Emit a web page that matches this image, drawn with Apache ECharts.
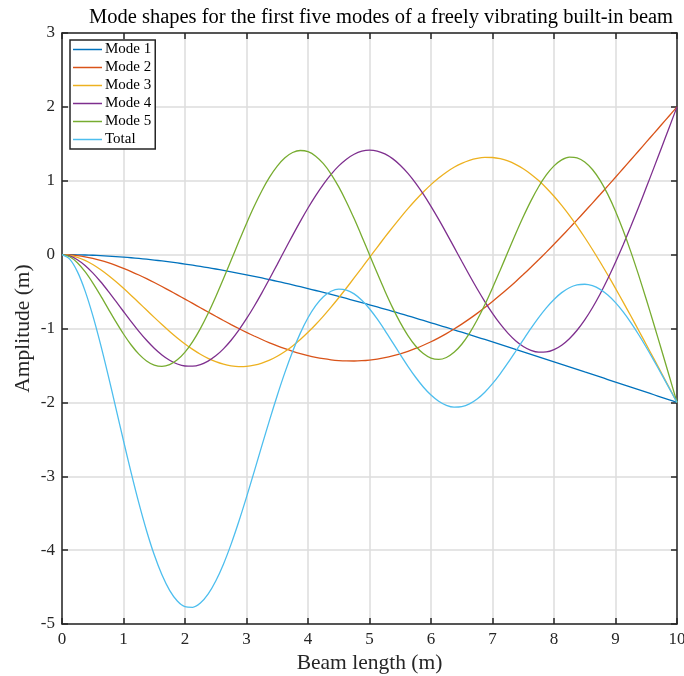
<!DOCTYPE html>
<html>
<head>
<meta charset="utf-8">
<title>Mode shapes</title>
<script src="https://cdn.jsdelivr.net/npm/echarts@6/dist/echarts.min.js"></script>
<style>
  html, body { margin: 0; padding: 0; background: #fff; }
  #chartArea { width: 684px; height: 676px; }
</style>
</head>
<body>
<div id="chartArea"></div>
<script>
// beam position (m), every 0.125 m
const xs = [0, 0.125, 0.25, 0.375, 0.5, 0.625, 0.75, 0.875, 1, 1.125, 1.25, 1.375, 1.5, 1.625, 1.75, 1.875,
  2, 2.125, 2.25, 2.375, 2.5, 2.625, 2.75, 2.875, 3, 3.125, 3.25, 3.375, 3.5, 3.625, 3.75, 3.875,
  4, 4.125, 4.25, 4.375, 4.5, 4.625, 4.75, 4.875, 5, 5.125, 5.25, 5.375, 5.5, 5.625, 5.75, 5.875,
  6, 6.125, 6.25, 6.375, 6.5, 6.625, 6.75, 6.875, 7, 7.125, 7.25, 7.375, 7.5, 7.625, 7.75, 7.875,
  8, 8.125, 8.25, 8.375, 8.5, 8.625, 8.75, 8.875, 9, 9.125, 9.25, 9.375, 9.5, 9.625, 9.75, 9.875, 10];

// amplitudes (m)
const mode1 = [0, -0.0005, -0.0022, -0.0049, -0.0086, -0.0133, -0.0191, -0.0258, -0.0335, -0.0422,
  -0.0518, -0.0623, -0.0737, -0.0859, -0.0990, -0.1130, -0.1277, -0.1433, -0.1596, -0.1767,
  -0.1946, -0.2131, -0.2324, -0.2523, -0.2730, -0.2942, -0.3161, -0.3386, -0.3618, -0.3854,
  -0.4097, -0.4345, -0.4598, -0.4856, -0.5119, -0.5387, -0.5659, -0.5936, -0.6217, -0.6502,
  -0.6790, -0.7083, -0.7379, -0.7679, -0.7982, -0.8288, -0.8596, -0.8908, -0.9223, -0.9540,
  -0.9859, -1.0180, -1.0504, -1.0830, -1.1157, -1.1487, -1.1818, -1.2150, -1.2484, -1.2819,
  -1.3155, -1.3492, -1.3830, -1.4170, -1.4509, -1.4850, -1.5191, -1.5533, -1.5876, -1.6218,
  -1.6561, -1.6905, -1.7248, -1.7592, -1.7936, -1.8280, -1.8624, -1.8968, -1.9312, -1.9656, -2.0];
const mode2 = [0, -0.0034, -0.0132, -0.0291, -0.0507, -0.0775, -0.1091, -0.1452, -0.1853, -0.2289,
  -0.2758, -0.3255, -0.3776, -0.4317, -0.4874, -0.5443, -0.6021, -0.6604, -0.7188, -0.7770,
  -0.8345, -0.8911, -0.9466, -1.0004, -1.0523, -1.1020, -1.1493, -1.1938, -1.2354, -1.2737,
  -1.3085, -1.3397, -1.3669, -1.3902, -1.4092, -1.4238, -1.4339, -1.4394, -1.4402, -1.4362,
  -1.4273, -1.4135, -1.3948, -1.3711, -1.3425, -1.3089, -1.2704, -1.2271, -1.1790, -1.1261,
  -1.0687, -1.0068, -0.9404, -0.8699, -0.7952, -0.7165, -0.6341, -0.5481, -0.4586, -0.3658,
  -0.2700, -0.1713, -0.0697, 0.0344, 0.1401, 0.2483, 0.3583, 0.4701, 0.5833, 0.6978,
  0.8135, 0.9302, 1.0475, 1.1655, 1.2840, 1.4029, 1.5221, 1.6415, 1.7609, 1.8804, 2.0];
const mode3 = [0, -0.0093, -0.0360, -0.0783, -0.1341, -0.2016, -0.2791, -0.3645, -0.4561, -0.5522,
  -0.6509, -0.7506, -0.8496, -0.9464, -1.0395, -1.1274, -1.2090, -1.2830, -1.3483, -1.4039,
  -1.4490, -1.4829, -1.5051, -1.5150, -1.5125, -1.4973, -1.4693, -1.4289, -1.3761, -1.3115,
  -1.2354, -1.1486, -1.0518, -0.9459, -0.8318, -0.7107, -0.5835, -0.4515, -0.3159, -0.1781,
  -0.0393, 0.0990, 0.2357, 0.3693, 0.4986, 0.6222, 0.7391, 0.8479, 0.9476, 1.0371,
  1.1156, 1.1822, 1.2361, 1.2768, 1.3037, 1.3165, 1.3149, 1.2986, 1.2678, 1.2225,
  1.1629, 1.0893, 1.0022, 0.9022, 0.7897, 0.6657, 0.5307, 0.3857, 0.2316, 0.0694,
  -0.1002, -0.2759, -0.4571, -0.6425, -0.8316, -1.0233, -1.2170, -1.4119, -1.6078, -1.8038, -2.0];
const mode4 = [0, -0.0180, -0.0686, -0.1466, -0.2469, -0.3643, -0.4939, -0.6307, -0.7700, -0.9074,
  -1.0387, -1.1598, -1.2676, -1.3585, -1.4303, -1.4804, -1.5077, -1.5104, -1.4887, -1.4416,
  -1.3703, -1.2756, -1.1589, -1.0222, -0.8677, -0.6983, -0.5169, -0.3268, -0.1315, 0.0656,
  0.2607, 0.4504, 0.6311, 0.7995, 0.9524, 1.0871, 1.2011, 1.2922, 1.3588, 1.3997,
  1.4142, 1.4020, 1.3634, 1.2992, 1.2105, 1.0993, 0.9675, 0.8178, 0.6530, 0.4763,
  0.2911, 0.1009, -0.0904, -0.2793, -0.4620, -0.6350, -0.7948, -0.9382, -1.0623, -1.1646,
  -1.2428, -1.2952, -1.3204, -1.3175, -1.2861, -1.2262, -1.1384, -1.0237, -0.8833, -0.7190,
  -0.5328, -0.3270, -0.1040, 0.1334, 0.3828, 0.6416, 0.9072, 1.1775, 1.4507, 1.7251, 2.0];
const mode5 = [0, -0.0294, -0.1102, -0.2314, -0.3822, -0.5519, -0.7302, -0.9074, -1.0745, -1.2233,
  -1.3467, -1.4388, -1.4951, -1.5123, -1.4887, -1.4239, -1.3192, -1.1772, -1.0015, -0.7973,
  -0.5704, -0.3276, -0.0760, 0.1765, 0.4226, 0.6545, 0.8654, 1.0486, 1.1986, 1.3109,
  1.3819, 1.4096, 1.3931, 1.3330, 1.2311, 1.0908, 0.9163, 0.7132, 0.4877, 0.2469,
  -0.0017, -0.2503, -0.4913, -0.7171, -0.9206, -1.0956, -1.2366, -1.3393, -1.4005, -1.4183,
  -1.3922, -1.3230, -1.2130, -1.0657, -0.8857, -0.6788, -0.4515, -0.2110, 0.0350, 0.2786,
  0.5120, 0.7276, 0.9184, 1.0780, 1.2009, 1.2827, 1.3202, 1.3112, 1.2552, 1.1525,
  1.0050, 0.8156, 0.5880, 0.3269, 0.0375, -0.2747, -0.6042, -0.9456, -1.2944, -1.6467, -2.0];
const total = [0, -0.0606, -0.2302, -0.4903, -0.8225, -1.2086, -1.6314, -2.0736, -2.5194, -2.9540,
  -3.3639, -3.7370, -4.0636, -4.3348, -4.5449, -4.6890, -4.7657, -4.7743, -4.7169, -4.5965,
  -4.4188, -4.1903, -3.9190, -3.6134, -3.2829, -2.9373, -2.5862, -2.2395, -1.9062, -1.5941,
  -1.3110, -1.0628, -0.8543, -0.6892, -0.5694, -0.4953, -0.4659, -0.4791, -0.5313, -0.6179,
  -0.7331, -0.8711, -1.0249, -1.1876, -1.3522, -1.5118, -1.6600, -1.7915, -1.9012, -1.9850,
  -2.0401, -2.0647, -2.0581, -2.0211, -1.9549, -1.8625, -1.7473, -1.6137, -1.4665, -1.3112,
  -1.1534, -0.9988, -0.8525, -0.7199, -0.6063, -0.5145, -0.4483, -0.4100, -0.4008, -0.4211,
  -0.4706, -0.5476, -0.6504, -0.7759, -0.9209, -1.0815, -1.2543, -1.4353, -1.6218, -1.8106, -2.0];

const seriesNames = ['Mode 1', 'Mode 2', 'Mode 3', 'Mode 4', 'Mode 5', 'Total'];
const seriesColors = ['#0072BD', '#D95319', '#EDB120', '#7E2F8E', '#77AC30', '#4DBEEE'];
const seriesValues = [mode1, mode2, mode3, mode4, mode5, total];

const serif = 'Liberation Serif';
const axisColor = '#262626';
const gridColor = '#dcdcdc';

function pairUp(values) {
  return xs.map(function (x, i) { return [x, values[i]]; });
}

const chartDom = document.getElementById('chartArea');
const myChart = echarts.init(chartDom);

// top / right copies of the axes only draw the box and inward ticks
function boxAxis(base, pos) {
  return Object.assign({}, base, {
    position: pos,
    name: '',
    axisLabel: { show: false },
    splitLine: { show: false }
  });
}

const xBase = {
  type: 'value',
  min: 0,
  max: 10,
  interval: 1,
  axisLine: { show: true, onZero: false, lineStyle: { color: axisColor, width: 1.5 } },
  axisTick: { show: true, inside: true, length: 6, lineStyle: { color: axisColor, width: 1.5 } },
  splitLine: { show: true, lineStyle: { color: gridColor, width: 1.5 } },
  axisLabel: { color: axisColor, fontFamily: serif, fontSize: 17, margin: 7 }
};
const yBase = {
  type: 'value',
  min: -5,
  max: 3,
  interval: 1,
  axisLine: { show: true, onZero: false, lineStyle: { color: axisColor, width: 1.5 } },
  axisTick: { show: true, inside: true, length: 6, lineStyle: { color: axisColor, width: 1.5 } },
  splitLine: { show: true, lineStyle: { color: gridColor, width: 1.5 } },
  axisLabel: { color: axisColor, fontFamily: serif, fontSize: 17, margin: 7 }
};

let option = {
  animation: false,
  backgroundColor: '#ffffff',
  title: {
    text: 'Mode shapes for the first five modes of a freely vibrating built-in beam',
    left: 376,
    top: 2,
    textAlign: 'center',
    textStyle: { fontFamily: serif, fontSize: 20.5, fontWeight: 'normal', color: '#000' }
  },
  grid: { left: 62, right: 7, top: 33, bottom: 52, containLabel: false, outerBoundsMode: 'none' },
  legend: {
    data: seriesNames.map(function (name) { return { name: name, icon: 'rect' }; }),
    orient: 'vertical',
    left: 70,
    top: 40,
    itemWidth: 29,
    itemHeight: 1.5,
    itemGap: 3,
    padding: [2, 4, 2, 3],
    backgroundColor: '#ffffff',
    borderColor: axisColor,
    borderWidth: 1.5,
    borderRadius: 0,
    textStyle: { fontFamily: serif, fontSize: 15, color: '#000', padding: [0, 0, 0, -2] }
  },
  xAxis: [
    Object.assign({}, xBase, {
      position: 'bottom',
      name: 'Beam length (m)',
      nameLocation: 'middle',
      nameGap: 28,
      nameMoveOverlap: false,
      nameTextStyle: { fontFamily: serif, fontSize: 21.5, color: axisColor }
    }),
    boxAxis(xBase, 'top')
  ],
  yAxis: [
    Object.assign({}, yBase, {
      position: 'left',
      name: 'Amplitude (m)',
      nameLocation: 'middle',
      nameGap: 28,
      nameMoveOverlap: false,
      nameTextStyle: { fontFamily: serif, fontSize: 21.5, color: axisColor }
    }),
    boxAxis(yBase, 'right')
  ],
  series: seriesNames.map(function (name, i) {
    return {
      name: name,
      type: 'line',
      xAxisIndex: 0,
      yAxisIndex: 0,
      data: pairUp(seriesValues[i]),
      smooth: 0.3,
      symbol: 'none',
      lineStyle: { color: seriesColors[i], width: 1.3 },
      itemStyle: { color: seriesColors[i] }
    };
  })
};

option && myChart.setOption(option);
</script>
</body>
</html>
